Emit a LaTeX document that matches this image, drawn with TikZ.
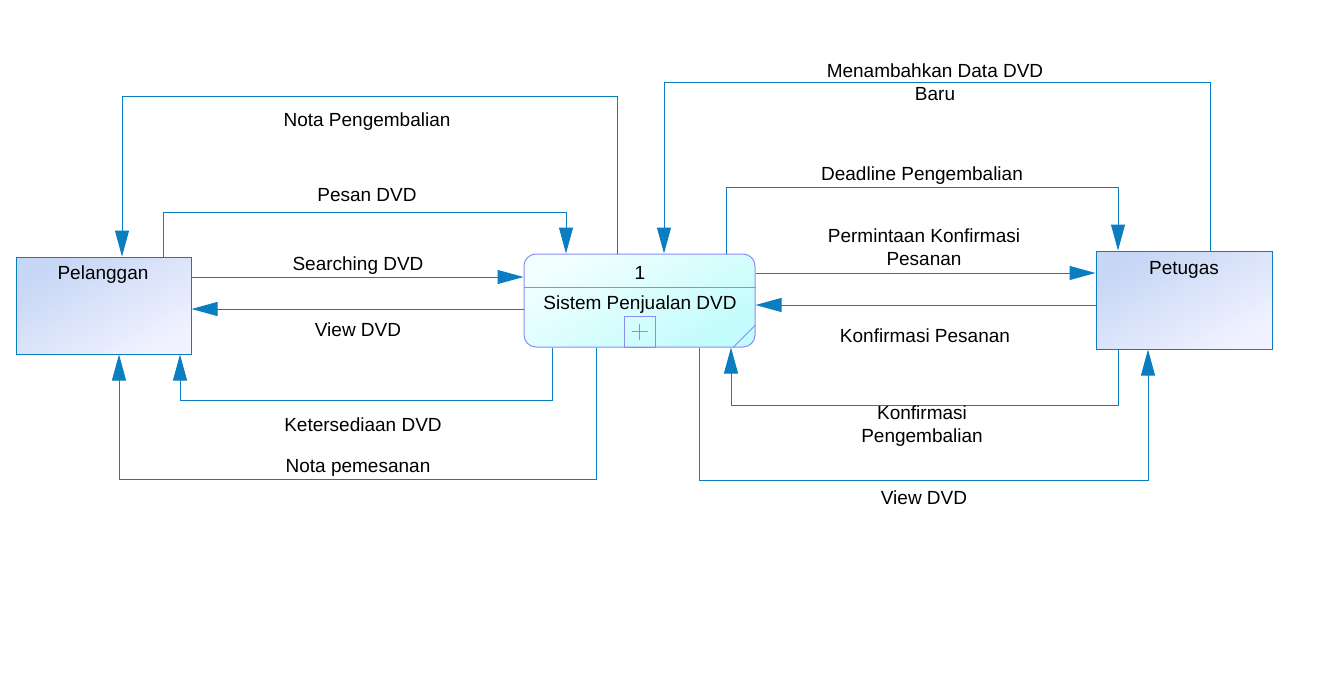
\documentclass[tikz,border=0pt]{standalone}
\usepackage{fontspec}
\setmainfont{Liberation Sans}
\usetikzlibrary{arrows.meta}
\definecolor{lineblue}{HTML}{0B7DC1}
\definecolor{procborder}{HTML}{8C8CF5}
\definecolor{entA}{HTML}{C6D6F5}
\definecolor{entB}{HTML}{F0F2FF}
\definecolor{procA}{HTML}{F2FFFF}
\definecolor{procB}{HTML}{C2FCFC}
\begin{document}
\begin{tikzpicture}[x=1pt,y=-1pt,
  flow/.style={draw=lineblue, line width=1pt, -{Triangle[length=26pt,width=14pt]}},
  lbl/.style={font=\fontsize{19}{23}\selectfont, inner sep=0pt, align=center, yshift=-2.5pt},
  entity/.style={draw=lineblue, line width=1pt, top color=entA, bottom color=entB, shading angle=30, inner sep=0pt},
  procbox/.style={draw=procborder, line width=1pt, rounded corners=12pt, top color=procA, bottom color=procB, shading angle=30, inner sep=0pt}]
\useasboundingbox (0,0) rectangle (1319,679);
% entities
\node[entity, minimum width=175pt, minimum height=97pt] (pel) at (103.5,305.5) {};
\node[lbl] (pelt) at (103,272) {Pelanggan};
\node[entity, minimum width=176pt, minimum height=98pt] (pet) at (1184,300) {};
\node[lbl] (pett) at (1184,267) {Petugas};
% process
\node[procbox, minimum width=231pt, minimum height=93pt] (proc) at (639.5,300.5) {};
\draw[procborder, line width=1pt] (proc.west |- 0,287) -- (proc.east |- 0,287);
\draw[procborder, line width=1pt] (624,316) rectangle (655,347);
\draw[procborder, line width=0.8pt] (631.5,331.5) -- (647.5,331.5) (639.5,323.5) -- (639.5,339.5);
\draw[procborder, line width=0.8pt] (proc.east |- 0,325) -- (733,0 |- proc.south);
\node[lbl] (pnum) at (640,270) {1};
\node[lbl] (pname) at (640,302) {Sistem Penjualan DVD};
% left flows
\draw[flow] (617,0 |- proc.north) |- (122,97) -- (122,0 |- pel.north);
\draw[flow] (163,0 |- pel.north) |- (566,212) -- (566,0 |- proc.north);
\draw[flow] (pel.east |- 0,277) -- (proc.west |- 0,277);
\draw[flow] (proc.west |- 0,309) -- (pel.east |- 0,309);
\draw[flow] (552,0 |- proc.south) |- (180,400) -- (180,0 |- pel.south);
\draw[flow] (596,0 |- proc.south) |- (119,479) -- (119,0 |- pel.south);
% right flows
\draw[flow] (1210,0 |- pet.north) |- (664,83) -- (664,0 |- proc.north);
\draw[flow] (726,0 |- proc.north) |- (1118,188) -- (1118,0 |- pet.north);
\draw[flow] (proc.east |- 0,273) -- (pet.west |- 0,273);
\draw[flow] (pet.west |- 0,305) -- (proc.east |- 0,305);
\draw[flow] (1118,0 |- pet.south) |- (731,405) -- (731,0 |- proc.south);
\draw[flow] (699,0 |- proc.south) |- (1148,480) -- (1148,0 |- pet.south);
% labels
\node[lbl] (l1) at (367,119) {Nota Pengembalian};
\node[lbl] (l2) at (367,193) {Pesan DVD};
\node[lbl] (l3) at (358,263) {Searching DVD};
\node[lbl] (l4) at (358,327) {View DVD};
\node[lbl] (l5) at (363,422) {Ketersediaan DVD};
\node[lbl] (l6) at (358,465) {Nota pemesanan};
\node[lbl] (l7) at (935,80) {Menambahkan Data DVD\\Baru};
\node[lbl] (l8) at (922,173) {Deadline Pengembalian};
\node[lbl] (l9) at (924,245) {Permintaan Konfirmasi\\Pesanan};
\node[lbl] (l10) at (925,333) {Konfirmasi Pesanan};
\node[lbl] (l11) at (922,424) {Konfirmasi\\Pengembalian};
\node[lbl] (l12) at (924,495) {View DVD};
\end{tikzpicture}
\end{document}
